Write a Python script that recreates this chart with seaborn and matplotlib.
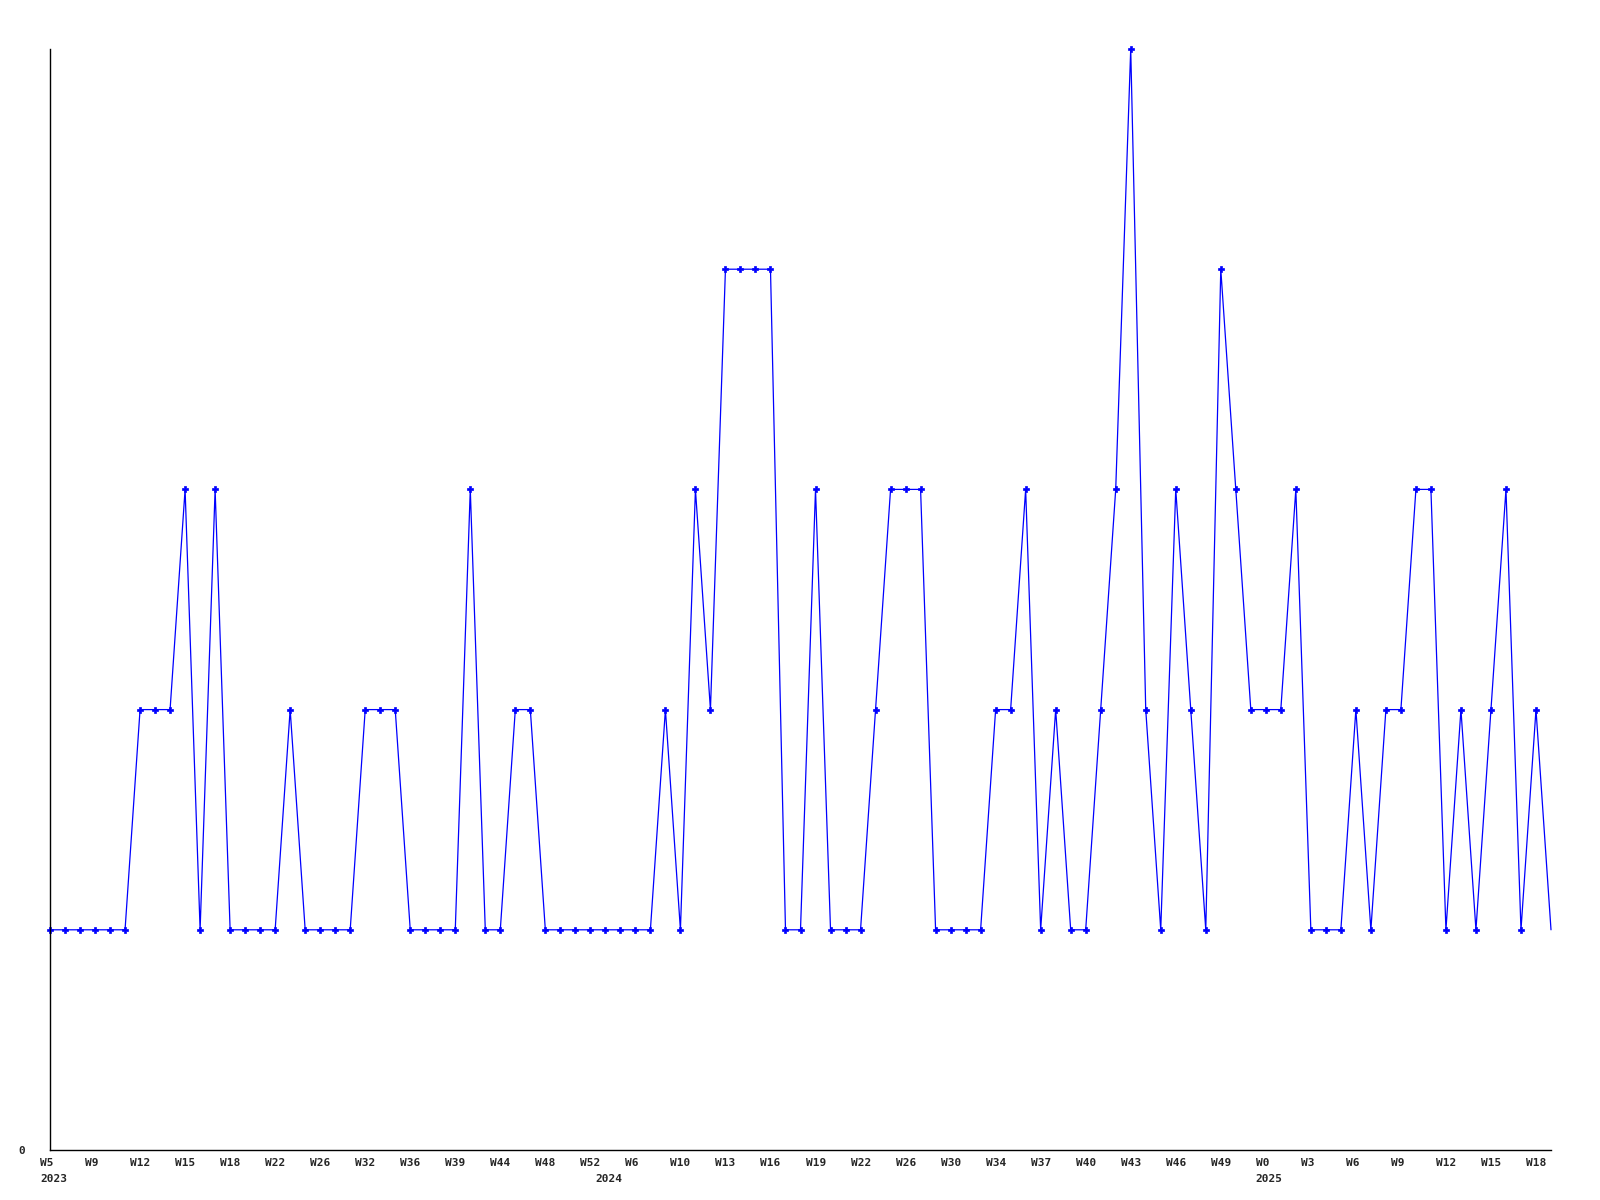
import matplotlib
matplotlib.use("Agg")
import matplotlib.pyplot as plt
import matplotlib.transforms as mtransforms
import seaborn as sns
import pandas as pd

# weekly values, one per point
values = [
    1, 1, 1, 1, 1, 1, 2, 2, 2, 3,
    1, 3, 1, 1, 1, 1, 2, 1, 1, 1,
    1, 2, 2, 2, 1, 1, 1, 1, 3, 1,
    1, 2, 2, 1, 1, 1, 1, 1, 1, 1,
    1, 2, 1, 3, 2, 4, 4, 4, 4, 1,
    1, 3, 1, 1, 1, 2, 3, 3, 3, 1,
    1, 1, 1, 2, 2, 3, 1, 2, 1, 1,
    2, 3, 5, 2, 1, 3, 2, 1, 4, 3,
    2, 2, 2, 3, 1, 1, 1, 2, 1, 2,
    2, 3, 3, 1, 2, 1, 2, 3, 1, 2,
    1,
]

# labels shown on every third point
week_labels = [
    "W5", "W9", "W12", "W15", "W18", "W22", "W26", "W32", "W36", "W39",
    "W44", "W48", "W52", "W6", "W10", "W13", "W16", "W19", "W22", "W26",
    "W30", "W34", "W37", "W40", "W43", "W46", "W49", "W0", "W3", "W6",
    "W9", "W12", "W15", "W18",
]
year_labels = ["2023", "2024", "2025"]
year_pos = [0, 37, 81]

df = pd.DataFrame({"idx": range(len(values)), "value": values})

sns.set_style("white")
plt.rcParams["font.family"] = ["DejaVu Sans Mono", "DejaVu Sans"]
plt.rcParams["font.weight"] = "bold"

fig = plt.figure(figsize=(16, 12), dpi=100)
ax = fig.add_axes([50 / 1600, 1 - 1150 / 1200, 1501 / 1600, 1101 / 1200])

sns.lineplot(data=df, x="idx", y="value", ax=ax, color="#0000ff",
             linewidth=0.9, marker="P", markersize=4,
             markeredgewidth=0.5, markeredgecolor="#0000ff",
             markevery=list(range(len(values) - 1)), clip_on=False)

ax.set_xlim(0, len(values) - 1)
ax.set_ylim(0, 5)
ax.set_xlabel("")
ax.set_ylabel("")

# ticks
ax.set_xticks(range(0, len(week_labels) * 3, 3))
ax.set_xticklabels(week_labels, fontsize=8, fontweight="bold", ha="left")
ax.set_yticks([0])
ax.set_yticklabels(["0"], fontsize=8, fontweight="bold")
ax.tick_params(axis="x", length=0, pad=6)
ax.tick_params(axis="y", length=0, pad=18)

shift = mtransforms.ScaledTranslation(-10 / 100, 0, fig.dpi_scale_trans)
for lab in ax.get_xticklabels():
    lab.set_transform(lab.get_transform() + shift)

for yr, pos in zip(year_labels, year_pos):
    ax.annotate(yr, xy=(pos, 0), xycoords=("data", "axes fraction"),
                xytext=(-10, -24), textcoords="offset pixels",
                ha="left", va="top", fontsize=8, fontweight="bold")

for side in ["top", "right"]:
    ax.spines[side].set_visible(False)
for side in ["left", "bottom"]:
    ax.spines[side].set_color("black")
    ax.spines[side].set_linewidth(1)

ax.grid(False)

fig.savefig("out.png", dpi=100)
